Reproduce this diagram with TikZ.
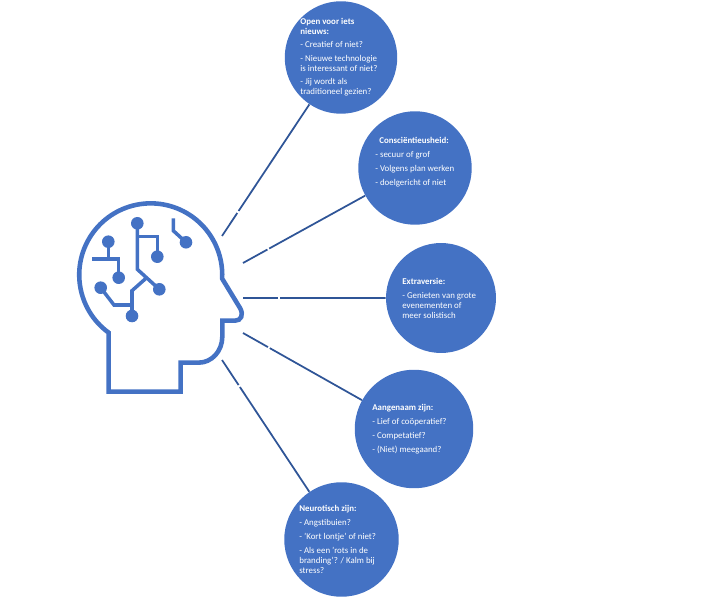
\documentclass[tikz,border=0pt]{standalone}
\usepackage{fontspec}
\setmainfont{Carlito}
\usetikzlibrary{calc}
\definecolor{bubbleblue}{HTML}{4472C4}
\definecolor{linkblue}{HTML}{2F5597}
\tikzset{
  bubble/.style={circle, fill=bubbleblue, inner sep=0pt},
  link/.style={draw=linkblue, line width=1pt},
  headline/.style={draw=bubbleblue, line width=2.6pt, line join=miter},
  wire/.style={draw=bubbleblue, line width=2pt},
  bubbletext/.style={anchor=north west, align=left, text=white, inner sep=0pt,
    font=\fontsize{5.05}{5.7}\selectfont}
}
\begin{document}
\begin{tikzpicture} [y=-0.02cm, x=0.02cm]
    \useasboundingbox (0,0) rectangle (722,597);
    %Circles
    \node[bubble, minimum size=2.25cm] (open) at (341,57.5) {};
    \node[bubble, minimum size=2.27cm] (cons) at (415,168) {};
    \node[bubble, minimum size=2.2cm] (extra) at (441,298) {};
    \node[bubble, minimum size=2.37cm] (aang) at (414,429) {};
    \node[bubble, minimum size=2.29cm] (neuro) at (341.5,539.5) {};
    %Free ends at the head
    \coordinate (headopen) at (222,236);
    \coordinate (headcons) at (243,263);
    \coordinate (headextra) at (243,298);
    \coordinate (headaang) at (243,333);
    \coordinate (headneuro) at (222,360);
    %Connectors with their small break
    \foreach \a/\b/\f in {headopen/open.-124/0.175, headcons/cons.-151/0.2,
        headextra/extra.180/0.245, headaang/aang.151/0.21, headneuro/neuro.124/0.19}
      \draw[link] (\a) -- ($(\a)!\f!(\b)$) ($(\a)!\f+0.015!(\b)$) -- (\b);
    %Head
    \draw[headline] (108.7,391.7) -- (108.7,332.7)
      arc[start angle=126, end angle=363, radius=71.5]
      -- (240,308) .. controls (244,315) and (241,320.7) .. (235,320.7)
      -- (222.3,320.7) -- (222.3,336.7)
      .. controls (222.3,351) and (212,362.7) .. (198.3,362.7)
      -- (180.7,362.7) -- (180.7,391.7) -- cycle;
    %Wires
    \draw[wire] (137.3,223.3) -- (137.3,269.3) -- (159.3,289.3);
    \draw[wire] (137.3,236.7) -- (157.3,236.7) -- (157.3,256.7);
    \draw[wire] (146,278.3) -- (132,290.7) -- (132,316);
    \draw[wire] (100.7,287.7) -- (114,305) -- (132,305);
    \draw[wire] (108.3,241.7) -- (108.3,259);
    \draw[wire] (92.3,259) -- (118.7,259) -- (118.7,277.7);
    \draw[wire] (173.3,218.3) -- (173.3,230.7) -- (186,242.3);
    %Wire ends
    \foreach \x/\y in {137.3/223.3, 159.3/289.3, 157.3/256.7, 132/316, 100.7/287.7,
        108.3/241.7, 118.7/277.7, 186/242.3}
      \fill[bubbleblue] (\x,\y) circle (6.3);
    %Texts
    \node[bubbletext] (opentext) at (300,17.5) {\textbf{Open voor iets}\\\textbf{nieuws:}\\[2.2pt]
      - Creatief of niet?\\[2.2pt]
      - Nieuwe technologie\\is interessant of niet?\\[1.5pt]
      - Jij wordt als\\traditioneel gezien?};
    \node[bubbletext] (constext) at (375,137) {\hspace{2.3pt}\textbf{Consciëntieusheid:}\\[2.2pt]
      - secuur of grof\\[2.2pt]
      - Volgens plan werken\\[2.2pt]
      - doelgericht of niet};
    \node[bubbletext] (extratext) at (402,278) {\textbf{Extraversie:}\\[2.2pt]
      - Genieten van grote\\evenementen of\\meer solistisch};
    \node[bubbletext] (aangtext) at (372,404) {\textbf{Aangenaam zijn:}\\[2.2pt]
      - Lief of coöperatief?\\[2.2pt]
      - Competatief?\\[2.2pt]
      - (Niet) meegaand?};
    \node[bubbletext] (neurotext) at (299,505) {\textbf{Neurotisch zijn:}\\[2.2pt]
      - Angstibuien?\\[2.2pt]
      - 'Kort lontje' of niet?\\[2.2pt]
      - Als een 'rots in de\\branding'? / Kalm bij\\stress?};
\end{tikzpicture}
\end{document}
